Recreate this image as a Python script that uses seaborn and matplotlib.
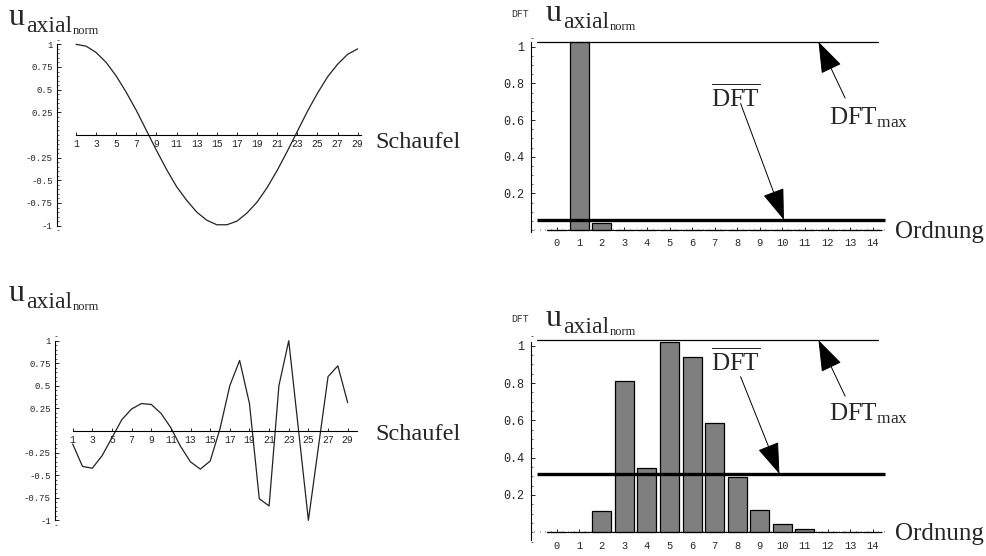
import matplotlib
matplotlib.use("Agg")
import matplotlib.pyplot as plt
from matplotlib.ticker import MultipleLocator
import seaborn as sns

# ---------------- data ----------------
blades = list(range(1, 30))
u_top = [1.00, 0.98, 0.91, 0.80, 0.65, 0.47, 0.27, 0.05, -0.17, -0.38,
         -0.57, -0.72, -0.85, -0.94, -0.99, -0.99, -0.95, -0.86, -0.74, -0.58,
         -0.39, -0.18, 0.04, 0.26, 0.46, 0.64, 0.78, 0.89, 0.95]
u_bottom = [-0.15, -0.40, -0.42, -0.28, -0.08, 0.12, 0.24, 0.30, 0.29, 0.19,
            0.03, -0.18, -0.35, -0.43, -0.34, 0.02, 0.50, 0.78, 0.30, -0.76,
            -0.84, 0.50, 1.00, 0.00, -1.00, -0.20, 0.60, 0.72, 0.31]

orders = list(range(15))
dft_top = [0, 1.024, 0.036, 0, 0, 0, 0, 0, 0, 0, 0, 0, 0, 0, 0]
dft_bottom = [0, 0, 0.114, 0.811, 0.345, 1.018, 0.940, 0.586, 0.295, 0.121,
              0.043, 0.020, 0, 0, 0]
dft_top_mean, dft_top_max = 0.055, 1.027
dft_bottom_mean, dft_bottom_max = 0.313, 1.030

left_yticks = [-1, -0.75, -0.5, -0.25, 0.25, 0.5, 0.75, 1]
left_yticklabels = ["-1", "-0.75", "-0.5", "-0.25", "0.25", "0.5", "0.75", "1"]
left_xticks = list(range(1, 30, 2))
right_yticks = [0.2, 0.4, 0.6, 0.8, 1.0]
right_yticklabels = ["0.2", "0.4", "0.6", "0.8", "1"]
right_xticks = orders

# ---------------- style ----------------
sns.set_style("white")
plt.rcParams["font.family"] = ["Liberation Serif", "DejaVu Serif"]
plt.rcParams["mathtext.fontset"] = "custom"
plt.rcParams["mathtext.rm"] = "Liberation Serif"
plt.rcParams["mathtext.it"] = "Liberation Serif:italic"
plt.rcParams["mathtext.bf"] = "Liberation Serif:bold"

W, H = 986, 556
fig = plt.figure(figsize=(W / 100, H / 100), dpi=100)
fig.patch.set_facecolor("white")
renderer = fig.canvas.get_renderer()
MONO = "Liberation Mono"


def add_axes_px(x0, x1, ytop, ybot):
    return fig.add_axes([x0 / W, 1 - ybot / H, (x1 - x0) / W, (ybot - ytop) / H])


def ftext(x, y, s, **kw):
    return fig.text(x / W, 1 - y / H, s, **kw)


def right_edge_px(t):
    return t.get_window_extent(renderer=renderer).x1


def title(x, ybase, dft=False):
    if dft:
        ftext(x - 35, ybase - 4, "DFT", family=MONO, fontsize=7, va="baseline",
              color="#333333")
    t = ftext(x, ybase, "u", fontsize=23, va="baseline")
    xa = right_edge_px(t) + 1
    t = ftext(xa, ybase + 7, "axial", fontsize=17, va="baseline")
    xn = right_edge_px(t) + 1
    ftext(xn, ybase + 9, "norm", fontsize=9, va="baseline")


def style_left(ax, xlim, xend):
    ax.set_xlim(*xlim)
    ax.set_ylim(-1.05, 1.05)
    for s in ["top", "right"]:
        ax.spines[s].set_visible(False)
    ax.spines["bottom"].set_position(("data", 0))
    ax.spines["bottom"].set_bounds(1, xend)
    ax.spines["left"].set_bounds(-1, 1)
    for s in ["bottom", "left"]:
        ax.spines[s].set_linewidth(0.8)
        ax.spines[s].set_color("black")
    ax.set_yticks(left_yticks)
    ax.set_yticklabels(left_yticklabels, family=MONO, fontsize=6.5)
    ax.yaxis.set_minor_locator(MultipleLocator(0.05))
    ax.set_xticks(left_xticks)
    ax.set_xticklabels([str(v) for v in left_xticks], family=MONO, fontsize=7)
    ax.tick_params(axis="y", which="major", direction="in", length=3, width=0.7, pad=3, left=True)
    ax.tick_params(axis="y", which="minor", direction="in", length=1.5, width=0.5, left=True)
    ax.tick_params(axis="x", which="major", direction="in", length=2, width=0.7, pad=3, bottom=True)
    ax.set_xlabel("")
    ax.set_ylabel("")
    ax.patch.set_alpha(0)


def style_right(ax, ylim, ybounds):
    ax.set_xlim(-1.15, 14.6)
    ax.set_ylim(*ylim)
    for s in ["top", "right"]:
        ax.spines[s].set_visible(False)
    ax.spines["bottom"].set_position(("data", 0))
    ax.spines["bottom"].set_bounds(-0.44, 14.2)
    ax.spines["left"].set_bounds(*ybounds)
    for s in ["bottom", "left"]:
        ax.spines[s].set_linewidth(0.8)
        ax.spines[s].set_color("black")
    ax.set_yticks(right_yticks)
    ax.set_yticklabels(right_yticklabels, family=MONO, fontsize=8.5)
    ax.yaxis.set_minor_locator(MultipleLocator(0.05))
    ax.set_xticks(right_xticks)
    ax.set_xticklabels([str(v) for v in right_xticks], family=MONO, fontsize=7.5)
    ax.xaxis.set_minor_locator(MultipleLocator(0.25))
    ax.tick_params(axis="y", which="major", direction="in", length=3, width=0.7, pad=5, left=True)
    ax.tick_params(axis="y", which="minor", direction="in", length=1.5, width=0.5, left=True)
    ax.tick_params(axis="x", which="major", direction="in", length=2, width=0.7, pad=6, bottom=True)
    ax.tick_params(axis="x", which="minor", direction="in", length=1, width=0.5, bottom=True)
    ax.set_xlabel("")
    ax.set_ylabel("")
    ax.patch.set_alpha(0)


ARROW = dict(arrowstyle="-|>,head_length=1.0,head_width=0.35", mutation_scale=20,
             lw=0.7, color="black", shrinkA=0, shrinkB=0)


def dft_panel(ax, vals, mean, vmax, ylim, ybounds, dft_text_y, arrow1_tail, arrow1_tip,
              max_text_y, arrow2_tail):
    sns.barplot(x=orders, y=vals, ax=ax, native_scale=True, width=0.84,
                color="#7f7f7f", saturation=1, edgecolor="black", linewidth=0.9,
                errorbar=None)
    style_right(ax, ylim, ybounds)
    ax.plot([-0.89, 14.22], [vmax, vmax], color="black", lw=0.9, clip_on=False)
    ax.plot([-0.89, 14.55], [mean, mean], color="black", lw=2.4, clip_on=False,
            solid_capstyle="butt")
    ax.text(7.93, dft_text_y, r"$\overline{\mathrm{DFT}}$", fontsize=18,
            ha="center", va="center")
    ax.annotate("", xy=arrow1_tip, xytext=arrow1_tail, arrowprops=ARROW)
    ax.text(12.05, max_text_y, r"$\mathrm{DFT}_{\mathrm{max}}$", fontsize=18,
            ha="left", va="baseline")
    ax.annotate("", xy=(11.6, vmax), xytext=arrow2_tail, arrowprops=ARROW)


# ---------------- top left ----------------
ax1 = add_axes_px(56.9, 361.7, 39.8, 230.2)
sns.lineplot(x=blades, y=u_top, ax=ax1, color="#222222", lw=0.9)
style_left(ax1, (-0.9, 29.4), 29.3)
title(9, 25)
ftext(375, 148, "Schaufel", fontsize=17.5, va="baseline")

# ---------------- bottom left ----------------
ax3 = add_axes_px(55.0, 357.5, 336.2, 524.8)
sns.lineplot(x=blades, y=u_bottom, ax=ax3, color="#222222", lw=0.9)
style_left(ax3, (-0.8, 30.0), 30.0)
title(9, 301)
ftext(375, 440, "Schaufel", fontsize=17.5, va="baseline")

# ---------------- top right ----------------
ax2 = add_axes_px(530.7, 886.2, 35.7, 233.7)
dft_panel(ax2, dft_top, dft_top_mean, dft_top_max, (-0.02, 1.06), (-0.013, 1.027),
          0.72, (8.15, 0.69), (10.07, dft_top_mean), 0.575, (12.78, 0.72))
title(546, 21, dft=True)
ftext(895, 238, "Ordnung", fontsize=18, va="baseline")

# ---------------- bottom right ----------------
ax4 = add_axes_px(530.7, 886.2, 330.8, 541.6)
dft_panel(ax4, dft_bottom, dft_bottom_mean, dft_bottom_max, (-0.05, 1.08), (-0.04, 1.02),
          0.915, (8.15, 0.834), (9.87, dft_bottom_mean), 0.60, (12.78, 0.73))
title(546, 326, dft=True)
ftext(895, 540, "Ordnung", fontsize=18, va="baseline")

fig.savefig("out.png", dpi=100, facecolor="white")
